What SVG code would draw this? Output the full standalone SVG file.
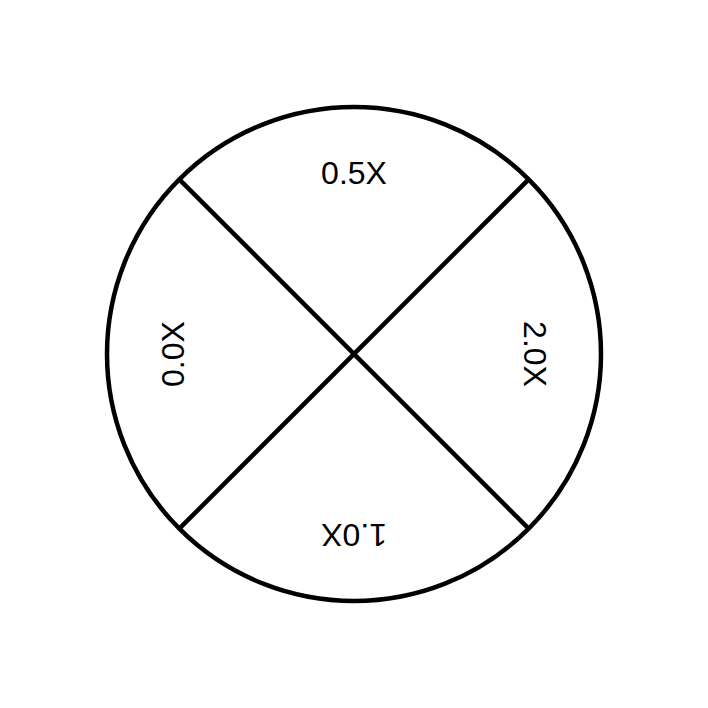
<svg xmlns="http://www.w3.org/2000/svg" width="708" height="708" viewBox="0 0 708 708">
<style>
.s{fill:none;stroke:#000;stroke-width:4.5}
.t{font-family:"Liberation Sans",Arial,sans-serif;font-size:32px;fill:#000;text-anchor:middle}
</style>
<rect width="708" height="708" fill="#fff"/>
<g id="dial">
<circle class="s" cx="354" cy="354" r="247"/>
</g>
<g id="connectors">
<line class="s" x1="179.3" y1="179.3" x2="528.7" y2="528.7"/>
<line class="s" x1="528.7" y1="179.3" x2="179.3" y2="528.7"/>
</g>
<g id="label-05"><text class="t" x="354" y="184">0.5X</text></g>
<g id="label-20"><text class="t" x="354" y="184" transform="rotate(90 354 354)">2.0X</text></g>
<g id="label-10"><text class="t" x="354" y="184" transform="rotate(180 354 354)">1.0X</text></g>
<g id="label-00"><text class="t" x="354" y="184" transform="rotate(270 354 354)">0.0X</text></g>
</svg>
